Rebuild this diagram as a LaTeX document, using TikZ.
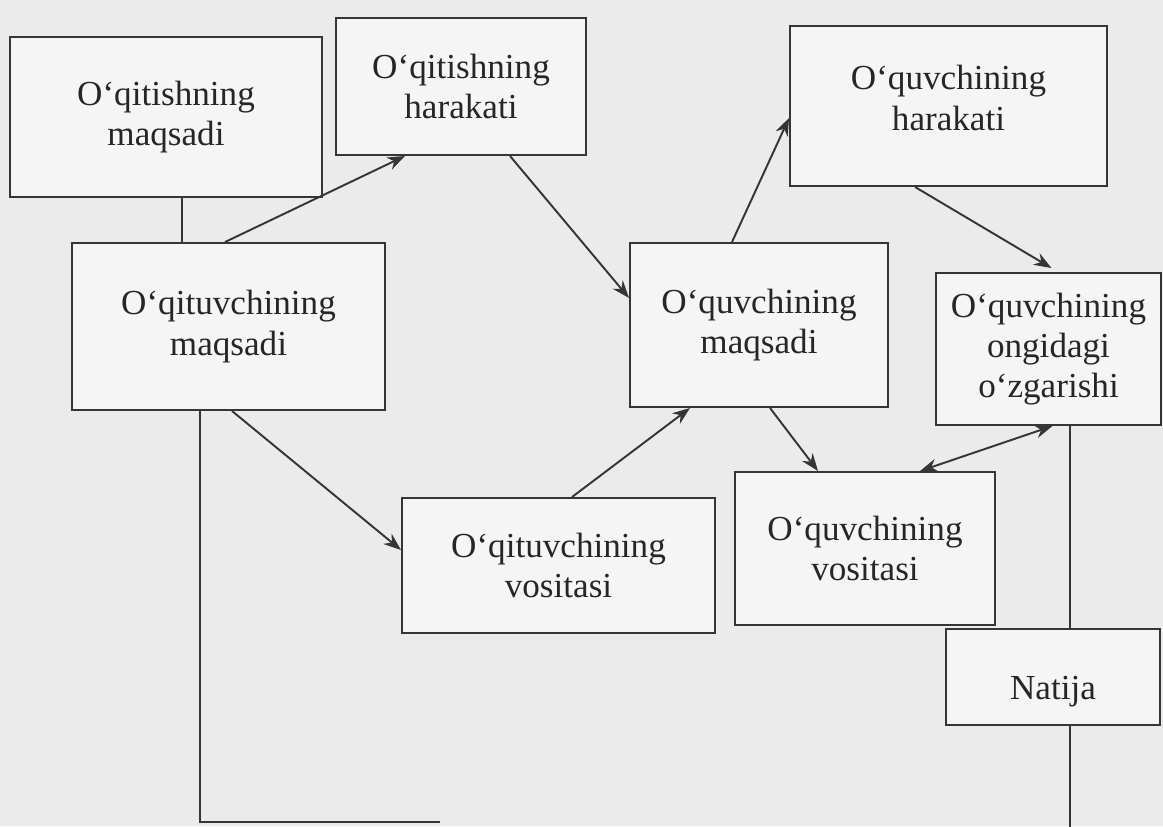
\documentclass[tikz,border=0pt]{standalone}
\usepackage{fontspec}
\setmainfont{Liberation Serif}
\usetikzlibrary{calc,arrows.meta}
\definecolor{bg}{HTML}{EBEBEB}
\definecolor{boxfill}{HTML}{F5F5F5}
\definecolor{ln}{HTML}{353535}
\tikzset{
  box/.style={draw=ln, line width=1.1pt, fill=boxfill, align=center, inner sep=0pt,
    font=\fontsize{20}{23}\selectfont, text=black!85},
  conn/.style={draw=ln, line width=1.1pt},
  arr/.style={conn, -{Stealth[length=10pt,width=7.5pt]}},
  darr/.style={conn, {Stealth[length=10pt,width=7.5pt]}-{Stealth[length=10pt,width=7.5pt]}}
}
\begin{document}
\begin{tikzpicture}[x=0.02cm,y=-0.02cm]
\fill[bg] (0,0) rectangle (1163,826);
\useasboundingbox (0,0) rectangle (1163,826);
\node[box, minimum width=312*0.02cm, minimum height=160*0.02cm] (n1) at (166,117) {O‘qitishning\\maqsadi};
\node[box, minimum width=250*0.02cm, minimum height=137*0.02cm] (n2) at (461,86.5) {O‘qitishning\\harakati};
\node[box, minimum width=317*0.02cm, minimum height=160*0.02cm] (n3) at (948.5,106) {O‘quvchining\\harakati\rule[-0.32cm]{0pt}{0.32cm}};
\node[box, minimum width=313*0.02cm, minimum height=167*0.02cm] (n4) at (228.5,326.5) {O‘qituvchining\\maqsadi};
\node[box, minimum width=258*0.02cm, minimum height=164*0.02cm] (n5) at (759,325) {O‘quvchining\\maqsadi};
\node[box, minimum width=225*0.02cm, minimum height=152*0.02cm] (n6) at (1048.5,349) {O‘quvchining\\ongidagi\\o‘zgarishi};
\node[box, minimum width=313*0.02cm, minimum height=135*0.02cm] (n7) at (558.5,565.5) {O‘qituvchining\\vositasi};
\node[box, minimum width=260*0.02cm, minimum height=153*0.02cm] (n8) at (865,548.5) {O‘quvchining\\vositasi};
\node[box, minimum width=214*0.02cm, minimum height=96*0.02cm] (n9) at (1053,677) {\rule{0pt}{1.05cm}Natija};
\coordinate (b1) at (200,822);
\coordinate (b2) at (440,822);
\coordinate (b3) at (1070,830);
% connectors
\draw[conn] ($(n1.south)+(16,0)$) -- ($(n4.north)+(-46.5,0)$);
\draw[arr] ($(n4.north)+(-3.5,0)$) -- ($(n2.south)+(-56,0)$);
\draw[arr] ($(n2.south)+(49,0)$) -- ($(n5.west)+(0,-27)$);
\draw[arr] ($(n5.north)+(-27,0)$) -- ($(n3.west)+(0,12)$);
\draw[arr] ($(n3.south)+(-33.5,0)$) -- ($(n6.north)+(3,-4)$);
\draw[arr] ($(n4.south)+(3.5,0)$) -- ($(n7.west)+(0,-15.5)$);
\draw[arr] ($(n7.north)+(13.5,0)$) -- ($(n5.south)+(-69,0)$);
\draw[arr] ($(n5.south)+(11,0)$) -- ($(n8.north)+(-47,0)$);
\draw[darr] ($(n8.north)+(55,0)$) -- ($(n6.south)+(4,0)$);
\draw[conn] ($(n6.south)+(21.5,0)$) -- ($(n9.north)+(17,0)$);
\draw[conn] ($(n9.south)+(17,0)$) -- (b3);
\draw[conn] ($(n4.south)+(-28.5,0)$) -- (b1) -- (b2);
\end{tikzpicture}
\end{document}
